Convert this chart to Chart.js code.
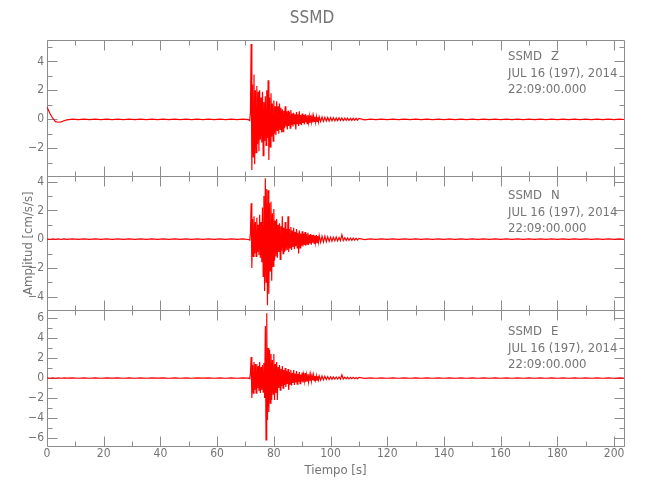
<!DOCTYPE html>
<html>
<head>
<meta charset="utf-8">
<script src="https://cdn.jsdelivr.net/npm/chart.js@4.4.1/dist/chart.umd.min.js"></script>
<style>
  html, body { margin: 0; padding: 0; background: #ffffff; }
</style>
</head>
<body>
<canvas id="myChart" width="650" height="500"></canvas>
<script>
// seismogram SSMD, peak values (alternating up / down)
const tiempo = [
  0, 1, 2, 3, 4, 5, 6, 7,
  9, 11, 13, 15, 17, 19, 21, 23, 25, 27, 29, 31, 33, 35, 37, 39, 41, 43, 45, 47, 49, 51, 53, 55, 57, 59, 61, 63, 65, 67, 69, 71,
  71.5, 71.75,
  72, 72.25, 72.5, 72.75, 73, 73.25, 73.5, 73.75, 74, 74.25, 74.5, 74.75, 75, 75.25, 75.5, 75.75,
  76, 76.25, 76.5, 76.75, 77, 77.25, 77.5, 77.75, 78, 78.25, 78.5, 78.75, 79, 79.25, 79.5, 79.75,
  80, 80.25, 80.5, 80.75, 81, 81.25, 81.5, 81.75, 82, 82.25, 82.5, 82.75, 83, 83.25, 83.5, 83.75,
  84, 84.25, 84.5, 84.75, 85, 85.25, 85.5, 85.75, 86, 86.25, 86.5, 86.75, 87, 87.25, 87.5, 87.75,
  88, 88.25, 88.5, 88.75, 89, 89.25, 89.5, 89.75, 90, 90.25, 90.5, 90.75, 91, 91.25, 91.5, 91.75,
  92, 92.25, 92.5, 92.75, 93, 93.25, 93.5, 93.75, 94, 94.25, 94.5, 94.75, 95, 95.25, 95.5, 95.75,
  96,
  96.5, 97, 97.5, 98, 98.5, 99, 99.5, 100, 100.5, 101, 101.5, 102, 102.5, 103,
  103.5, 104, 104.5, 105, 105.5, 106, 106.5, 107, 107.5, 108, 108.5, 109, 109.5, 110,
  112, 114, 116, 118, 120, 122, 124, 126, 128, 130, 132, 134, 136, 138, 140, 142,
  144, 146, 148, 150, 152, 154, 156, 158, 160, 162, 164, 166, 168, 170, 172, 174,
  176, 178, 180, 182, 184, 186, 188, 190, 192, 194, 196, 198, 200, 202, 203.5
];

const ampZ = [
  0.85, 0.42, 0.08, -0.16, -0.2, -0.17, -0.1, -0.04,
  0.02, -0.02, 0.02, -0.015, 0.02, -0.02, 0.015, -0.02, 0.02, -0.02, 0.02, -0.015, 0.02, -0.02, 0.015, -0.02,
  0.02, -0.02, 0.02, -0.015, 0.02, -0.02, 0.015, -0.02, 0.02, -0.02, 0.02, -0.015, 0.02, -0.02, 0.015, -0.02,
  -0.08, 0.5,
  5.2, -3.5, 2.4, -2.6, 3.1, -3.1, 2.0, -2.3, 2.3, -1.7, 1.9, -2.2, 2.0, -1.4, 1.5, -1.6,
  1.9, -2.5, 1.2, -1.5, 1.6, -1.8, 2.0, -1.3, 2.7, -2.8, 1.5, -1.9, 1.8, -1.2, 1.1, -1.5,
  1.3, -1.0, 0.9, -1.1, 1.25, -0.8, 0.9, -1.0, 1.1, -0.7, 0.8, -0.9, 0.7, -0.85, 0.6, -0.6,
  0.9, -0.5, 0.55, -0.7, 0.6, -0.45, 0.5, -0.6, 0.65, -0.4, 0.4, -0.5, 0.45, -0.35, 0.35, -0.7,
  0.5, -0.3, 0.35, -0.45, 0.55, -0.3, 0.3, -0.4, 0.4, -0.25, 0.3, -0.35, 0.35, -0.22, 0.25, -0.3,
  0.3, -0.2, 0.22, -0.25, 0.28, -0.18, 0.2, -0.22, 0.22, -0.15, 0.18, -0.2, 0.2, -0.14, 0.15, -0.18,
  0.17,
  -0.15, 0.16, -0.14, 0.14, -0.12, 0.13, -0.12, 0.12, -0.1, 0.11, -0.1, 0.1, -0.09, 0.1,
  -0.08, 0.09, -0.08, 0.08, -0.07, 0.08, -0.07, 0.07, -0.07, 0.07, -0.06, 0.07, -0.06, 0.06,
  -0.03, 0.02, -0.02, 0.02, -0.015, 0.02, -0.02, 0.015, -0.02, 0.02, -0.02, 0.02, -0.015, 0.02, -0.02, 0.015,
  -0.02, 0.02, -0.02, 0.02, -0.015, 0.02, -0.02, 0.015, -0.02, 0.02, -0.02, 0.02, -0.015, 0.02, -0.02, 0.015,
  -0.02, 0.02, -0.02, 0.02, -0.015, 0.02, -0.02, 0.015, -0.02, 0.02, -0.02, 0.02, -0.015, 0.02, -0.01
];

const ampN = [
  0.01, -0.02, 0.02, -0.015, 0.02, -0.02, 0.015, -0.02,
  0.02, -0.02, 0.02, -0.015, 0.02, -0.02, 0.015, -0.02, 0.02, -0.02, 0.02, -0.015, 0.02, -0.02, 0.015, -0.02,
  0.02, -0.02, 0.02, -0.015, 0.02, -0.02, 0.015, -0.02, 0.02, -0.02, 0.02, -0.015, 0.02, -0.02, 0.015, -0.02,
  -0.06, 0.4,
  2.5, -2.0, 1.4, -1.2, 1.6, -1.0, 1.2, -1.2, 1.5, -0.9, 1.0, -1.1, 1.7, -1.3, 1.2, -1.6,
  2.2, -2.6, 3.0, -3.6, 4.25, -3.0, 3.5, -4.6, 3.4, -3.8, 2.5, -2.2, 2.6, -2.9, 1.8, -1.9,
  2.1, -1.5, 1.3, -1.2, 1.4, -1.3, 1.0, -0.9, 1.1, -1.4, 0.9, -0.8, 1.6, -1.0, 0.8, -0.9,
  1.2, -0.8, 0.7, -0.75, 1.6, -0.9, 0.7, -0.6, 0.85, -0.75, 0.6, -0.55, 0.8, -0.7, 0.5, -0.5,
  0.7, -0.6, 0.45, -1.0, 0.6, -0.6, 0.4, -0.45, 0.55, -0.5, 0.4, -0.4, 0.5, -0.45, 0.35, -0.35,
  0.45, -0.4, 0.3, -0.3, 0.35, -0.38, 0.28, -0.25, 0.3, -0.3, 0.25, -0.22, 0.28, -0.25, 0.22, -0.2,
  0.25,
  -0.22, 0.2, -0.2, 0.2, -0.18, 0.16, -0.15, 0.15, -0.14, 0.13, -0.12, 0.15, -0.12, 0.12,
  -0.1, 0.3, -0.1, 0.1, -0.09, 0.09, -0.08, 0.08, -0.08, 0.07, -0.07, 0.07, -0.06, 0.06,
  -0.03, 0.02, -0.02, 0.02, -0.015, 0.02, -0.02, 0.015, -0.02, 0.02, -0.02, 0.02, -0.015, 0.02, -0.02, 0.015,
  -0.02, 0.02, -0.02, 0.02, -0.015, 0.02, -0.02, 0.015, -0.02, 0.02, -0.02, 0.02, -0.015, 0.02, -0.02, 0.015,
  -0.02, 0.02, -0.02, 0.02, -0.015, 0.02, -0.02, 0.015, -0.02, 0.02, -0.02, 0.02, -0.015, 0.02, -0.01
];

const ampE = [
  0.02, -0.02, 0.015, -0.02, 0.02, -0.02, 0.02, -0.015,
  0.02, -0.02, 0.015, -0.02, 0.02, -0.02, 0.02, -0.015, 0.02, -0.02, 0.015, -0.02, 0.02, -0.02, 0.02, -0.015,
  0.02, -0.02, 0.015, -0.02, 0.02, -0.02, 0.02, -0.015, 0.02, -0.02, 0.015, -0.02, 0.02, -0.02, 0.02, -0.015,
  -0.06, 0.5,
  2.1, -2.0, 1.3, -1.5, 1.6, -1.2, 1.4, -1.5, 1.4, -1.0, 1.2, -1.3, 1.6, -1.5, 1.1, -1.2,
  1.3, -1.4, 1.5, -2.0, 5.2, -6.2, 6.5, -4.2, 3.0, -3.4, 2.8, -2.5, 2.4, -2.2, 1.8, -1.6,
  2.4, -2.2, 1.4, -1.5, 1.6, -2.2, 1.1, -1.0, 1.3, -1.2, 0.9, -0.8, 1.2, -1.0, 0.8, -0.7,
  1.0, -0.9, 0.7, -0.6, 0.9, -1.2, 0.6, -0.6, 0.8, -0.75, 0.5, -0.5, 0.8, -0.7, 0.45, -0.45,
  0.7, -0.6, 0.4, -0.4, 0.6, -0.55, 0.35, -0.35, 0.55, -0.45, 0.3, -0.3, 0.5, -0.4, 0.3, -0.28,
  0.4, -0.35, 0.25, -0.25, 0.35, -0.3, 0.22, -0.22, 0.3, -0.25, 0.2, -0.2, 0.25, -0.22, 0.18, -0.18,
  0.22,
  -0.2, 0.2, -0.18, 0.17, -0.15, 0.15, -0.14, 0.14, -0.12, 0.12, -0.11, 0.11, -0.1, 0.1,
  -0.1, 0.33, -0.09, 0.09, -0.08, 0.08, -0.08, 0.07, -0.07, 0.07, -0.06, 0.06, -0.06, 0.06,
  -0.03, 0.02, -0.02, 0.015, -0.02, 0.02, -0.02, 0.015, -0.02, 0.02, -0.02, 0.015, -0.02, 0.02, -0.02, 0.015,
  -0.02, 0.02, -0.02, 0.015, -0.02, 0.02, -0.02, 0.015, -0.02, 0.02, -0.02, 0.015, -0.02, 0.02, -0.02, 0.015,
  -0.02, 0.02, -0.02, 0.015, -0.02, 0.02, -0.02, 0.015, -0.02, 0.02, -0.02, 0.015, -0.02, 0.02, -0.01
];

const canales = ['Z', 'N', 'E'];
const limitesY = [[-3.93, 5.45], [-4.94, 4.38], [-6.8, 6.8]];
const estacion = 'SSMD';
const fecha = 'JUL 16 (197), 2014';
const hora = '22:09:00.000';

const FUENTE = "'Liberation Sans Narrow', 'DejaVu Sans Condensed', 'Liberation Sans', sans-serif";
const GRIS_TEXTO = '#747474';
const GRIS_EJE = '#8c8c8c';
const ejesY = ['yZ', 'yN', 'yE'];
const bajadaTexto = [16, 19, 21]; // offset of the text block below each panel top

function menos(v) {
  return v < 0 ? '\u2212' + Math.abs(v) : String(v);
}

// frame + inward ticks on all four sides of every panel, plus the text block
const marcoPlugin = {
  id: 'marco',
  beforeDatasetsDraw(chart) {
    const ctx = chart.ctx;
    const x = chart.scales.x;
    ctx.save();
    ctx.strokeStyle = GRIS_EJE;
    ctx.lineWidth = 1;
    ejesY.forEach(id => {
      const y = chart.scales[id];
      const l = Math.round(x.left) + 0.5, r = Math.round(x.right) + 0.5;
      const t = Math.round(y.top) + 0.5, b = Math.round(y.bottom) + 0.5;
      ctx.beginPath();
      ctx.rect(l, t, r - l, b - t);
      for (let s = 0; s <= x.max; s += 10) {
        const px = Math.round(x.getPixelForValue(s)) + 0.5;
        const len = s % 20 === 0 ? 10 : 5;
        ctx.moveTo(px, t); ctx.lineTo(px, t + len);
        ctx.moveTo(px, b); ctx.lineTo(px, b - len);
      }
      for (let v = Math.ceil(y.min); v <= Math.floor(y.max); v++) {
        const py = Math.round(y.getPixelForValue(v)) + 0.5;
        const len = v % 2 === 0 ? 10 : 5;
        ctx.moveTo(l, py); ctx.lineTo(l + len, py);
        ctx.moveTo(r, py); ctx.lineTo(r - len, py);
      }
      ctx.stroke();
    });
    ctx.restore();
  },
  afterDraw(chart) {
    const ctx = chart.ctx;
    ctx.save();
    ctx.fillStyle = GRIS_TEXTO;
    ctx.font = '13px ' + FUENTE;
    ctx.textBaseline = 'middle';
    ctx.textAlign = 'left';
    ejesY.forEach((id, i) => {
      const y = chart.scales[id];
      const x0 = 508;
      const y0 = y.top + bajadaTexto[i];
      ctx.fillText(estacion, x0, y0);
      ctx.fillText(canales[i], x0 + 43, y0);
      ctx.fillText(fecha, x0, y0 + 17);
      ctx.fillText(hora, x0, y0 + 33);
    });
    ctx.restore();
  }
};

function ejeY(i, peso, titulo) {
  return {
    type: 'linear',
    position: 'left',
    stack: 'canales',
    stackWeight: peso,
    weight: 3 - i,
    min: limitesY[i][0],
    max: limitesY[i][1],
    afterFit: s => { s.width = 47; },
    grid: { display: false, drawTicks: false },
    border: { display: false },
    ticks: {
      stepSize: 2,
      includeBounds: false,
      autoSkip: false,
      padding: 3,
      color: GRIS_TEXTO,
      font: { family: FUENTE, size: 12 },
      callback: function (v) {
        if (v < this.min - 1e-9 || v > this.max + 1e-9) return '';
        return menos(v);
      }
    },
    title: {
      display: !!titulo,
      text: titulo || '',
      color: GRIS_TEXTO,
      font: { family: FUENTE, size: 13 },
      padding: { top: 21, bottom: 0 }
    }
  };
}

function serie(amp) {
  return tiempo.map((t, i) => ({ x: t, y: amp[i] }));
}

const ctx = document.getElementById('myChart');
const myChart = new Chart(ctx, {
  type: 'line',
  data: {
    datasets: [ampZ, ampN, ampE].map((amp, i) => ({
      label: canales[i],
      data: serie(amp),
      yAxisID: ejesY[i],
      borderColor: '#ff0000',
      borderWidth: 1.2,
      pointRadius: 0,
      tension: 0,
      fill: false
    }))
  },
  options: {
    responsive: false,
    animation: false,
    layout: { padding: { left: 0, right: 26, top: 0, bottom: 0 } },
    plugins: {
      legend: { display: false },
      tooltip: { enabled: false },
      title: {
        display: true,
        text: estacion,
        color: GRIS_TEXTO,
        font: { family: FUENTE, size: 17, weight: 'normal' },
        padding: { top: 8, bottom: 12 }
      }
    },
    scales: {
      x: {
        type: 'linear',
        min: 0,
        max: 203.5,
        afterFit: s => { s.height = 54; },
        grid: { display: false, drawTicks: false },
        border: { display: false },
        ticks: {
          stepSize: 20,
          includeBounds: false,
          autoSkip: false,
          maxRotation: 0,
          padding: 1,
          color: GRIS_TEXTO,
          font: { family: FUENTE, size: 12 }
        },
        title: {
          display: true,
          text: 'Tiempo [s]',
          color: GRIS_TEXTO,
          font: { family: FUENTE, size: 13 },
          padding: { top: 0, bottom: 22 }
        }
      },
      yZ: ejeY(0, 136, ''),
      yN: ejeY(1, 134, 'Amplitud [cm/s/s]'),
      yE: ejeY(2, 136, '')
    }
  },
  plugins: [marcoPlugin]
});
</script>
</body>
</html>
